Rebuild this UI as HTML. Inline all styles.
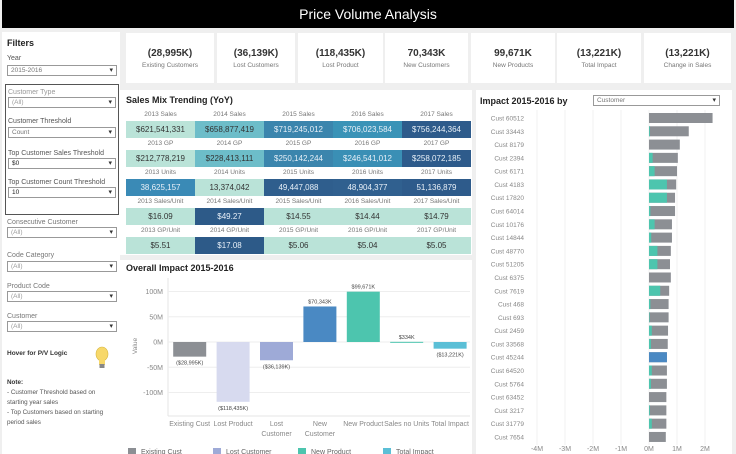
<!DOCTYPE html>
<html><head><meta charset="utf-8"><style>
*{box-sizing:border-box;margin:0;padding:0}
body{width:736px;height:454px;overflow:hidden;background:#efefef;font-family:"Liberation Sans",sans-serif;position:relative}
.abs{position:absolute}
.panel{position:absolute;background:#fff}
.lbl{position:absolute;font-size:7px;color:#555}
.dd{position:absolute;height:11px;border:1px solid #999;background:#fff;font-size:6.5px;color:#999;padding-left:3px;line-height:9px}
.dd::after{content:"▾";position:absolute;right:3px;top:0;color:#333;font-size:7px}
.kpi{position:absolute;top:33px;height:50px;background:#fff;text-align:center}
.kpi b{display:block;font-size:10px;color:#333;margin-top:15px}
.kpi span{display:block;font-size:6.5px;color:#777;margin-top:3px}
.hd{position:absolute;font-size:6.5px;color:#777;text-align:center;width:69px}
.cell{position:absolute;height:17px;width:69px;font-size:8px;text-align:center;line-height:17px;color:#333}
#wf{z-index:5}
</style></head><body>
<div class="abs" style="left:2px;top:0;width:732px;height:28px;background:#000;color:#fff;font-size:14px;text-align:center;line-height:28px">Price Volume Analysis</div>

<div class="panel" style="left:2px;top:32px;width:118px;height:422px">
<div class="abs" style="left:5px;top:6px;font-size:9px;font-weight:bold;color:#222">Filters</div>
<div class="lbl" style="left:5px;top:23px">Year</div>
<div class="dd" style="left:5px;top:33px;width:110px;color:#777">2015-2016</div>
<div class="abs" style="left:3px;top:52px;width:114px;height:131px;border:1px solid #555"></div>
<div class="lbl" style="left:6px;top:57px;color:#999">Customer Type</div>
<div class="dd" style="left:6px;top:65px;width:108px">(All)</div>
<div class="lbl" style="left:6px;top:86px">Customer Threshold</div>
<div class="dd" style="left:6px;top:95px;width:108px;color:#777">Count</div>
<div class="lbl" style="left:6px;top:118px">Top Customer Sales Threshold</div>
<div class="dd" style="left:6px;top:126px;width:108px;color:#222">$0</div>
<div class="lbl" style="left:6px;top:147px">Top Customer Count Threshold</div>
<div class="dd" style="left:6px;top:155px;width:108px;color:#222">10</div>
<div class="lbl" style="left:5px;top:187px;color:#777">Consecutive Customer</div>
<div class="dd" style="left:5px;top:195px;width:110px">(All)</div>
<div class="lbl" style="left:5px;top:220px;color:#777">Code Category</div>
<div class="dd" style="left:5px;top:229px;width:110px">(All)</div>
<div class="lbl" style="left:5px;top:251px;color:#777">Product Code</div>
<div class="dd" style="left:5px;top:259px;width:110px">(All)</div>
<div class="lbl" style="left:5px;top:281px;color:#777">Customer</div>
<div class="dd" style="left:5px;top:289px;width:110px">(All)</div>
<div class="lbl" style="left:5px;top:318px;font-size:6.5px;font-weight:bold;color:#333">Hover for P/V Logic</div>
<svg class="abs" style="left:93px;top:314px" width="14" height="24"><ellipse cx="7" cy="8" rx="6" ry="7" fill="#f7d86a" stroke="#d6b640" stroke-width=".6"/><rect x="4" y="14" width="6" height="5" fill="#f7d86a"/><rect x="4.5" y="18" width="5" height="4" fill="#888"/></svg>
<div class="lbl" style="left:5px;top:346px;font-size:6.3px;line-height:10px;color:#555;width:110px"><b style="color:#333">Note:</b><br>- Customer Threshold based on starting year sales<br>- Top Customers based on starting period sales</div>
</div>

<div class="kpi" style="left:126px;width:88px"><b>(28,995K)</b><span>Existing Customers</span></div>
<div class="kpi" style="left:217px;width:78px"><b>(36,139K)</b><span>Lost Customers</span></div>
<div class="kpi" style="left:298px;width:85px"><b>(118,435K)</b><span>Lost Product</span></div>
<div class="kpi" style="left:385px;width:83px"><b>70,343K</b><span>New Customers</span></div>
<div class="kpi" style="left:471px;width:84px"><b>99,671K</b><span>New Products</span></div>
<div class="kpi" style="left:557px;width:84px"><b>(13,221K)</b><span>Total Impact</span></div>
<div class="kpi" style="left:644px;width:87px"><b>(13,221K)</b><span>Change in Sales</span></div>

<div class="panel" style="left:120px;top:90px;width:352px;height:165px">
<div class="abs" style="left:6px;top:5px;font-size:9px;font-weight:bold;color:#222">Sales Mix Trending (YoY)</div>
<div id="tbl" class="abs" style="left:6px;top:0"></div>
</div>

<div class="panel" style="left:120px;top:260px;width:352px;height:194px">
<div class="abs" style="left:6px;top:3px;font-size:9px;font-weight:bold;color:#222">Overall Impact 2015-2016</div>
</div>

<div class="panel" style="left:476px;top:90px;width:256px;height:364px">
<div class="abs" style="left:4px;top:6px;font-size:9px;font-weight:bold;color:#222">Impact 2015-2016 by</div>
<div class="dd" style="left:117px;top:5px;width:127px;color:#777">Customer</div>
</div>
<svg id="wf" class="abs" style="left:0;top:0;pointer-events:none" width="736" height="454"></svg>

<script>
// ---- table ----
const tblHeaders=[["2013 Sales","2014 Sales","2015 Sales","2016 Sales","2017 Sales"],["2013 GP","2014 GP","2015 GP","2016 GP","2017 GP"],["2013 Units","2014 Units","2015 Units","2016 Units","2017 Units"],["2013 Sales/Unit","2014 Sales/Unit","2015 Sales/Unit","2016 Sales/Unit","2017 Sales/Unit"],["2013 GP/Unit","2014 GP/Unit","2015 GP/Unit","2016 GP/Unit","2017 GP/Unit"]];
const tblValues=[["$621,541,331","$658,877,419","$719,245,012","$706,023,584","$756,244,364"],["$212,778,219","$228,413,111","$250,142,244","$246,541,012","$258,072,185"],["38,625,157","13,374,042","49,447,088","48,904,377","51,136,879"],["$16.09","$49.27","$14.55","$14.44","$14.79"],["$5.51","$17.08","$5.06","$5.04","$5.05"]];
const tblColors=[["#bae3d8","#6dbdc9","#3b85ad","#3a93b7","#2e5b8b"],["#bae3d8","#6dbdc9","#3b85ad","#3a8fb5","#2e5b8b"],["#3a8ab6","#bae3d8","#2f5e8d","#30608f","#2e5b8b"],["#bae3d8","#2d5a88","#bae3d8","#bae3d8","#bae3d8"],["#bae3d8","#2d5a88","#bae3d8","#bae3d8","#bae3d8"]];
const tbl=document.getElementById('tbl');
for(let r=0;r<5;r++)for(let c=0;c<5;c++){
 const h=document.createElement('div');h.className='hd';
 
 
 h.style.left=(c*69)+'px';h.style.top=(21+r*29)+'px';h.textContent=tblHeaders[r][c];tbl.appendChild(h);
 const v=document.createElement('div');v.className='cell';
 
 
 const col=tblColors[r][c];v.style.background=col;
 v.style.color=(col==="#bae3d8"||col==="#6dbdc9")?"#333":"#e8f0f8";
 v.style.left=(c*69)+'px';v.style.top=(31+r*29)+'px';v.textContent=tblValues[r][c];tbl.appendChild(v);
}
const NS="http://www.w3.org/2000/svg";
function el(p,t,a,txt){const e=document.createElementNS(NS,t);for(const k in a)e.setAttribute(k,a[k]);if(txt!=null)e.textContent=txt;p.appendChild(e);return e;}
// ---- waterfall ----
const wfCats=["Existing Cust","Lost Product","Lost Customer","New Customer","New Product","Sales no Units","Total Impact"];
const wfValues=[-28.995,-118.435,-36.139,70.343,99.671,0.334,-13.221];
const wfLabels=["($28,995K)","($118,435K)","($36,139K)","$70,343K","$99,671K","$334K","($13,221K)"];
const wfColors=["#8c8f94","#d7daef","#9eaad7","#4a89c3","#4dc5ae","#4dc5ae","#5bbfd6"];
const wfTicks=[100,50,0,-50,-100];
const legendNames=["Existing Cust","Lost Customer","New Product","Total Impact"];
const legendColors=["#8c8f94","#9eaad7","#4dc5ae","#5bbfd6"];
const wf=document.getElementById('wf');
const y0=342,pxPerM=0.505,xL=168,bw=43.4;
const wy=v=>y0-v*pxPerM;
el(wf,'line',{x1:xL,y1:278,x2:xL,y2:416,stroke:'#e4e4e4'});
wfTicks.forEach(t=>{
 const l=el(wf,'line',{x1:xL,x2:470,y1:wy(t),y2:wy(t),stroke:'#eeeeee'});
 
 const tx=el(wf,'text',{x:xL-5,y:wy(t)+2.5,'text-anchor':'end','font-size':7,fill:'#888'},t+'M');
 
});
el(wf,'line',{x1:xL,x2:470,y1:416,y2:416,stroke:'#e4e4e4'});
const yt=el(wf,'text',{x:137,y:346,'font-size':6.5,fill:'#888',transform:'rotate(-90 137 346)','text-anchor':'middle'},'Value');

wfValues.forEach((v,i)=>{
 const cx=xL+bw*(i+0.5);
 const top=Math.min(wy(v),y0),h=Math.max(Math.abs(wy(v)-y0),1);
 const r=el(wf,'rect',{x:cx-16.5,y:top,width:33,height:h,fill:wfColors[i]});
 
 
 const ly=v>=0?wy(v)-3:wy(v)+8;
 const lt=el(wf,'text',{x:cx,y:ly,'text-anchor':'middle','font-size':5.5,fill:'#444'},wfLabels[i]);
 
 const words=wfCats[i]==="Lost Customer"||wfCats[i]==="New Customer"?wfCats[i].split(' '):[wfCats[i]];
 words.forEach((w,j)=>{const c=el(wf,'text',{x:cx,y:426+j*10,'text-anchor':'middle','font-size':7,fill:'#888'},w);
  });
});
legendNames.forEach((n,i)=>{
 const lx=128+i*85;
 const r=el(wf,'rect',{x:lx,y:448,width:8,height:7,fill:legendColors[i]});
 
 const t=el(wf,'text',{x:lx+13,y:454,'font-size':7,fill:'#666'},n);
 
});
// ---- right bar chart ----
const custNames=["Cust 60512","Cust 33443","Cust 8179","Cust 2394","Cust 6171","Cust 4183","Cust 17820","Cust 64014","Cust 10176","Cust 14844","Cust 48770","Cust 51205","Cust 6375","Cust 7619","Cust 468","Cust 693","Cust 2459","Cust 33568","Cust 45244","Cust 64520","Cust 5764","Cust 63452","Cust 3217","Cust 31779","Cust 7654"];
const custTotal=[2.27,1.42,1.10,1.03,1.00,0.97,0.93,0.93,0.82,0.82,0.78,0.75,0.78,0.72,0.70,0.70,0.68,0.67,0.64,0.64,0.64,0.62,0.62,0.62,0.60];
const custNewProduct=[0,0.03,0,0.13,0.20,0.64,0.64,0.05,0.20,0.08,0.30,0.30,0,0.40,0.05,0.02,0.10,0.07,0,0.10,0.07,0,0.03,0.10,0];
const custNewCustomer=[0,0,0,0,0,0,0,0,0,0,0,0,0,0,0,0,0,0,0.64,0,0,0,0,0,0];
const xTicks=[-4,-3,-2,-1,0,1,2];
const bx=v=>649+v*28;
const rowY=i=>118+i*13.29;
xTicks.forEach(t=>{
 const l=el(wf,'line',{x1:bx(t),x2:bx(t),y1:110,y2:445,stroke:'#f0f0f0'});
 
 const tx=el(wf,'text',{x:bx(t),y:451,'text-anchor':'middle','font-size':7,fill:'#888'},t+'M');
 
});
custNames.forEach((n,i)=>{
 const y=rowY(i);
 const t=el(wf,'text',{x:524,y:y+2.5,'text-anchor':'end','font-size':6.5,fill:'#888'},n);
 
 const g=el(wf,'rect',{x:bx(0),y:y-5,width:bx(custTotal[i])-bx(0),height:10,fill:'#8c8f94'});
 
 
 if(custNewProduct[i]>0){const r=el(wf,'rect',{x:bx(0),y:y-5,width:bx(custNewProduct[i])-bx(0),height:10,fill:'#4dc5ae'});
  }
 if(custNewCustomer[i]>0){const r=el(wf,'rect',{x:bx(0),y:y-5,width:bx(custNewCustomer[i])-bx(0),height:10,fill:'#4a89c3'});
  }
});
</script>
</body></html>
